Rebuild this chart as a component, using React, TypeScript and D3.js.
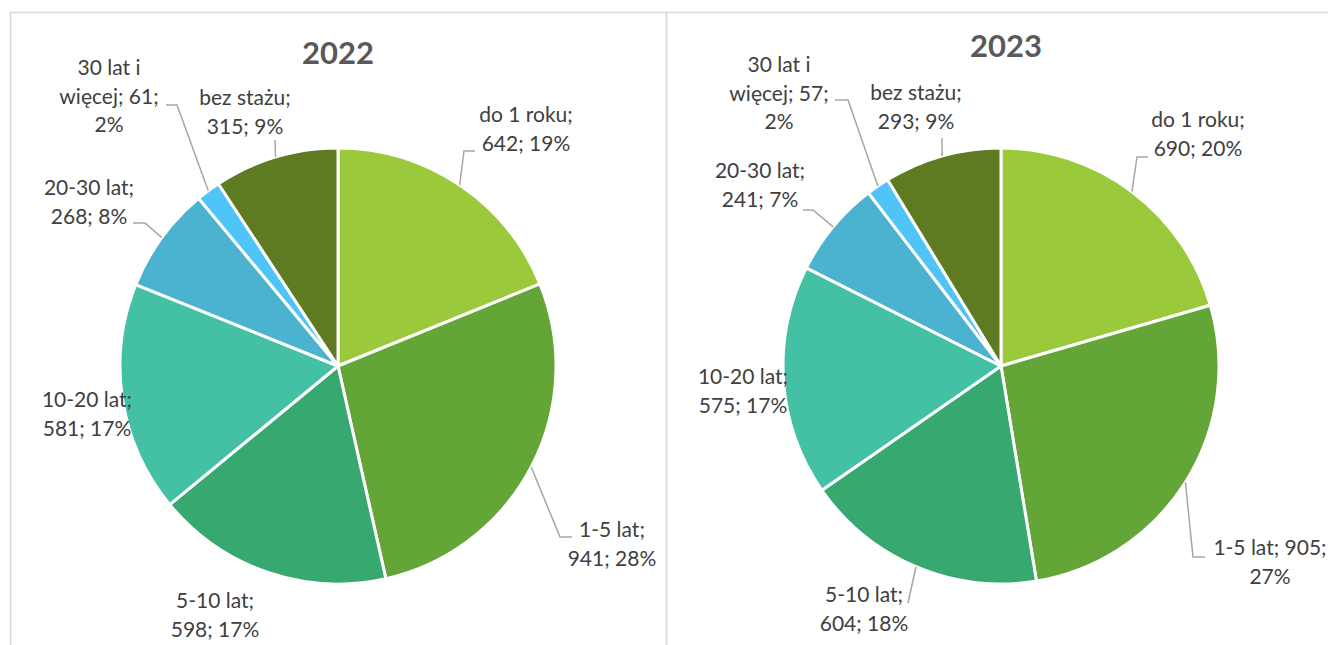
import React from "react";
import * as d3 from "d3";

// kategorie stażu pracy
const categories = [
  "do 1 roku",
  "1-5 lat",
  "5-10 lat",
  "10-20 lat",
  "20-30 lat",
  "30 lat i więcej",
  "bez stażu",
];
const years = ["2022", "2023"];
const values2022 = [642, 941, 598, 581, 268, 61, 315];
const values2023 = [690, 905, 604, 575, 241, 57, 293];
const pct2022 = [19, 28, 17, 17, 8, 2, 9];
const pct2023 = [20, 27, 18, 17, 7, 2, 9];

const colors = ["#9ACA3B", "#63A537", "#37A86F", "#44C1A4", "#4BB2D0", "#4FC4F6", "#5E7B22"];

// rozmieszczenie etykiet (względem środka koła) i łamanie wierszy
const layout2022 = [
  { at: [188, -249], breaks: [3, 2], leader: [[137, -215], [126, -215]] },
  { at: [274, 166], breaks: [2, 2], leader: [[234, 171], [222, 171]] },
  { at: [-123, 237], breaks: [2, 2], leader: null },
  { at: [-251, 36], breaks: [2, 2], leader: null },
  { at: [-249, -176], breaks: [2, 2], leader: [[-205, -143], [-193, -143]] },
  { at: [-229, -296], breaks: [3, 2, 1], leader: [[-172, -261], [-161, -261]] },
  { at: [-93, -266], breaks: [2, 2], leader: [[-63, -226]] },
];
const layout2023 = [
  { at: [197, -244], breaks: [3, 2], leader: [[147, -209], [136, -209]] },
  { at: [269, 184], breaks: [3, 1], leader: [[204, 191], [192, 191]] },
  { at: [-137, 231], breaks: [2, 2], leader: [[-93, 237]] },
  { at: [-258, 13], breaks: [2, 2], leader: null },
  { at: [-241, -193], breaks: [2, 2], leader: [[-198, -156], [-188, -156]] },
  { at: [-222, -299], breaks: [3, 2, 1], leader: [[-166, -266], [-153, -266]] },
  { at: [-85, -271], breaks: [2, 2], leader: [[-59, -228]] },
];

const W = 1328;
const H = 645;
const R = 218;
const FONT = "Lato, 'Open Sans', sans-serif";

function splitLines(text: string, breaks: number[]) {
  const tokens = text.split(" ");
  const out: string[] = [];
  let i = 0;
  breaks.forEach((n) => {
    out.push(tokens.slice(i, i + n).join(" "));
    i += n;
  });
  return out;
}

function Pie({ cx, cy, title, titleX, titleY, values, pcts, layout }) {
  const pie = d3.pie<number>().sort(null).startAngle(0).endAngle(2 * Math.PI);
  const arcs = pie(values);
  const arc = d3.arc<d3.PieArcDatum<number>>().innerRadius(0).outerRadius(R);

  return (
    <g transform={`translate(${cx},${cy})`}>
      <text
        x={titleX}
        y={titleY}
        textAnchor="middle"
        dominantBaseline="middle"
        fontFamily={FONT}
        fontWeight="bold"
        fontSize={31}
        fill="#595959"
      >
        {title}
      </text>
      {arcs.map((a, i) => (
        <path key={i} d={arc(a) || ""} fill={colors[i]} stroke="#fff" strokeWidth={3} strokeLinejoin="round" />
      ))}
      {arcs.map((a, i) => {
        const lay = layout[i];
        if (!lay.leader) return null;
        const mid = (a.startAngle + a.endAngle) / 2;
        const end = [R * Math.sin(mid), -R * Math.cos(mid)];
        const pts = [...lay.leader, end];
        return (
          <polyline
            key={"l" + i}
            points={pts.map((p) => p.join(",")).join(" ")}
            fill="none"
            stroke="#A6A6A6"
            strokeWidth={1.5}
          />
        );
      })}
      {arcs.map((a, i) => {
        const lay = layout[i];
        const txt = `${categories[i]}; ${values[i]}; ${pcts[i]}%`;
        const lines = splitLines(txt, lay.breaks);
        return (
          <text
            key={"t" + i}
            textAnchor="middle"
            dominantBaseline="middle"
            fontFamily={FONT}
            fontSize={21}
            fill="#404040"
          >
            {lines.map((ln, j) => (
              <tspan key={j} x={lay.at[0]} y={lay.at[1] + j * 28.5}>
                {ln}
              </tspan>
            ))}
          </text>
        );
      })}
    </g>
  );
}

export default function App() {
  return (
    <svg
      width={W}
      height={H}
      style={{ position: "absolute", left: 0, top: 0, background: "#fff" }}
    >
      <rect x={10.5} y={12.5} width={656} height={700} fill="none" stroke="#D9D9D9" strokeWidth={1.5} />
      <rect x={666.5} y={12.5} width={700} height={700} fill="none" stroke="#D9D9D9" strokeWidth={1.5} />
      <Pie cx={338} cy={366} title={years[0]} titleX={0} titleY={-310} values={values2022} pcts={pct2022} layout={layout2022} />
      <Pie cx={1001} cy={366} title={years[1]} titleX={5} titleY={-317} values={values2023} pcts={pct2023} layout={layout2023} />
    </svg>
  );
}
